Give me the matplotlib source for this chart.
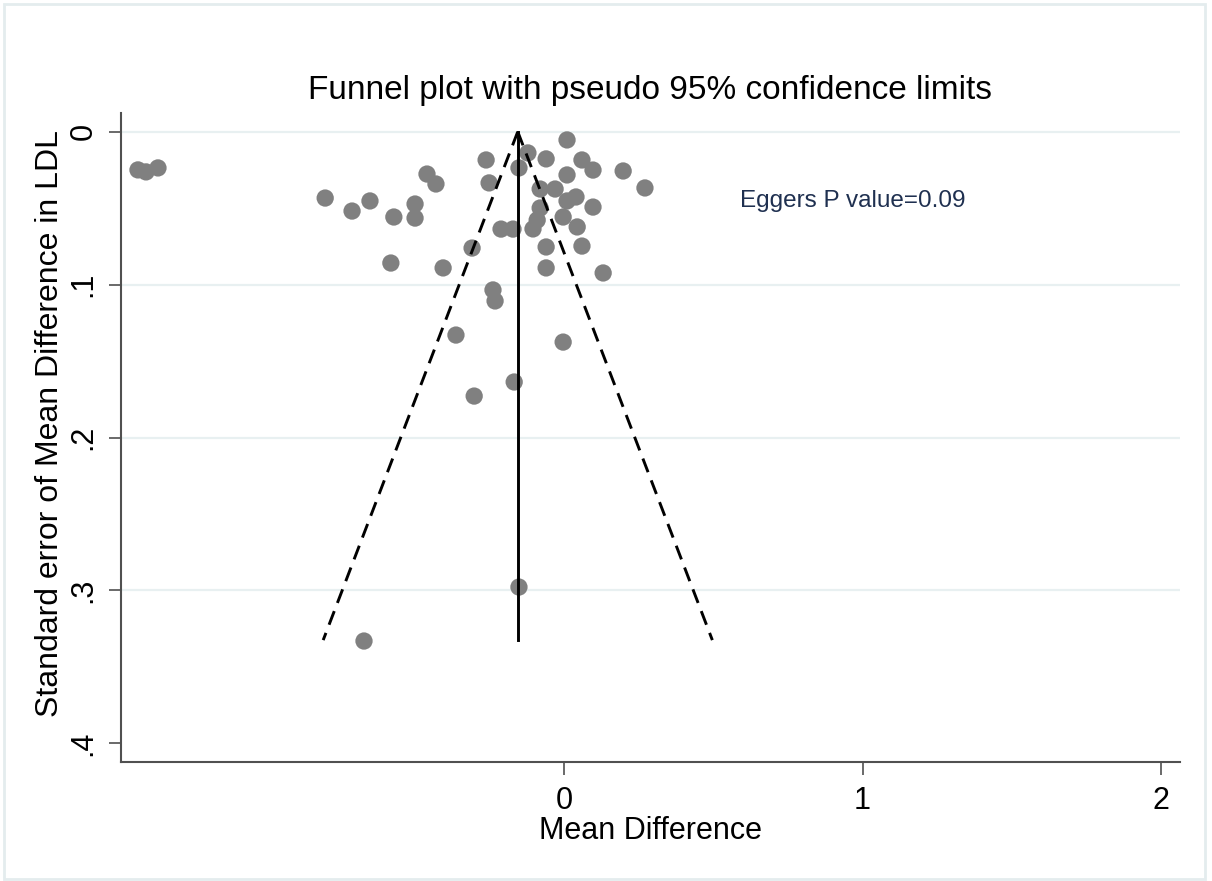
## Funnel plot with pseudo 95% confidence limits (Stata style look)
import numpy as np
import matplotlib.pyplot as plt
from matplotlib.patches import Rectangle

plt.rcParams['font.family'] = ['Liberation Sans', 'DejaVu Sans']

# study estimates
mean_diff = [-1.427, -1.400, -1.360, -0.800, -0.710, -0.650, -0.570, -0.499, -0.499, -0.459,
             -0.429, -0.580, -0.405, -0.261, -0.251, -0.121, -0.151, -0.060, 0.010, 0.060,
             0.097, 0.198, 0.271, 0.010, -0.080, -0.030, 0.010, 0.040, 0.097, -0.080,
             -0.090, -0.104, -0.003, 0.044, -0.211, -0.171, -0.308, -0.060, 0.060, -0.060,
             0.131, -0.238, -0.231, -0.362, -0.003, -0.167, -0.301, -0.151, -0.670]
std_err = [0.0250, 0.0263, 0.0237, 0.0434, 0.0519, 0.0453, 0.0558, 0.0473, 0.0565, 0.0277,
           0.0342, 0.0859, 0.0891, 0.0185, 0.0335, 0.0139, 0.0237, 0.0178, 0.0054, 0.0185,
           0.0251, 0.0257, 0.0368, 0.0283, 0.0375, 0.0375, 0.0453, 0.0427, 0.0493, 0.0499,
           0.0578, 0.0636, 0.0558, 0.0623, 0.0637, 0.0637, 0.0761, 0.0754, 0.0748, 0.0891,
           0.0924, 0.1035, 0.1107, 0.1330, 0.1376, 0.1637, 0.1729, 0.2978, 0.3331]

pooled = -0.155     # fixed effect estimate (vertical line)
se_max = 0.3325     # bottom of the funnel

x_ticks = [0, 1, 2]
y_ticks = [0, 0.1, 0.2, 0.3, 0.4]
y_ticklabels = ['0', '.1', '.2', '.3', '.4']

fig = plt.figure(figsize=(12.12, 8.81), dpi=100)
ax = fig.add_axes([0.0998, 0.1351, 0.8738, 0.7366])

# light frame round the whole graph
fig.patches.append(Rectangle((0.003, 0.002), 0.991, 0.994, transform=fig.transFigure,
                             fill=False, edgecolor='#e4ecee', linewidth=2))

# grid lines
for yv in y_ticks[:-1]:
    ax.axhline(yv, color='#e8f0f1', linewidth=1.6, zorder=0)

ax.scatter(mean_diff, std_err, s=155, color='#808080', edgecolors='none', zorder=2)

# funnel limits
se_line = np.array([0, se_max])
ax.plot(pooled - 1.96 * se_line, se_line, color='black', lw=2.1, ls=(0, (5, 3)), zorder=3)
ax.plot(pooled + 1.96 * se_line, se_line, color='black', lw=2.1, ls=(0, (5, 3)), zorder=3)
ax.plot([pooled, pooled], [0, se_max], color='black', lw=2.1, zorder=3)

ax.text(0.589, 0.0453, 'Eggers P value=0.09', color='#1f3050', fontsize=17.5, va='center', ha='left')

ax.set_xlim(-1.484, 2.063)
ax.set_ylim(0.4122, -0.0122)

ax.set_xticks(x_ticks)
ax.set_xticklabels([str(v) for v in x_ticks])
ax.set_yticks(y_ticks)
ax.set_yticklabels(y_ticklabels, rotation=90, va='center')

for side in ['top', 'right']:
    ax.spines[side].set_visible(False)
for side in ['left', 'bottom']:
    ax.spines[side].set_color('#505050')
    ax.spines[side].set_linewidth(1.5)
ax.tick_params(axis='x', length=9, width=1.2, color='#505050', labelsize=22, pad=8)
ax.tick_params(axis='y', length=9, width=1.2, color='#505050', labelsize=22, pad=7)

ax.set_xlabel('Mean Difference', fontsize=22, labelpad=0)
ax.set_ylabel('Standard error of Mean Difference in LDL', fontsize=23)
ax.yaxis.set_label_coords(-0.053, 0.522)
ax.set_title('Funnel plot with pseudo 95% confidence limits', fontsize=24, pad=10)

plt.savefig('out.png', dpi=100)
